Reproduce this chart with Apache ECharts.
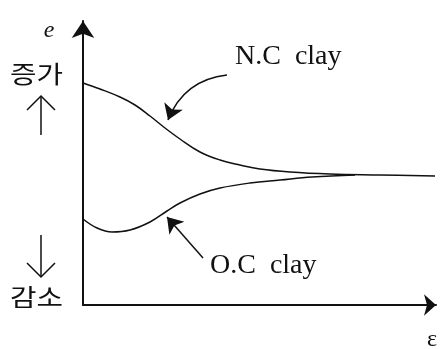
<!DOCTYPE html>
<html>
<head>
<meta charset="utf-8">
<script src="https://cdn.jsdelivr.net/npm/echarts@6/dist/echarts.min.js"></script>
<style>html,body{margin:0;padding:0;background:#fff;}#c{width:443px;height:349px;}</style>
</head>
<body>
<div id="c"></div>
<script>
// Normally consolidated (N.C) clay curve: [strain, void ratio] (arbitrary units)
var ncClay = [[0,222],[17,216],[37,208],[52,200],[67,189],[82,177],[97,166],[117,153],[137,145],[157,140],[177,136],[207,133],[247,131],[297,130],[352,129]];
// Overconsolidated (O.C) clay curve
var ocClay = [[0,86],[14,77],[29,73],[47,75],[67,83],[84,94],[97,102],[117,111],[137,117],[167,122],[197,125],[229,128],[272,130]];
// Annotation pointer arrows: [from, to]
var ncPointer = [[144,230],[85,185]];
var ocPointer = [[120,47],[84,88]];
var seriesNames = ['N.C  clay', 'O.C  clay'];
var yAxisName = 'e';
var xAxisName = 'ε';
var upLabel = '증가';
var downLabel = '감소';

var chart = echarts.init(document.getElementById('c'), null, {renderer:'canvas'});
var ink = '#111';
chart.setOption({
  backgroundColor:'#fff',
  animation:false,
  grid:{left:83, right:7, top:21, bottom:44},
  xAxis:{type:'value', min:0, max:353,
    axisLine:{show:true, lineStyle:{color:ink, width:2}, symbol:['none','arrow'], symbolSize:[16,12]},
    axisTick:{show:false}, axisLabel:{show:false}, splitLine:{show:false}},
  yAxis:{type:'value', min:0, max:284,
    axisLine:{show:true, lineStyle:{color:ink, width:2}, symbol:['none','arrow'], symbolSize:[17,17]},
    axisTick:{show:false}, axisLabel:{show:false}, splitLine:{show:false}},
  series:[
    {name:seriesNames[0], type:'line', data:ncClay, smooth:0.4, showSymbol:false,
     lineStyle:{color:ink, width:1.5}},
    {name:seriesNames[1], type:'line', data:ocClay, smooth:0.4, showSymbol:false,
     lineStyle:{color:ink, width:1.5}},
    {type:'lines', coordinateSystem:'cartesian2d', symbol:['none','arrow'], symbolSize:[0,15],
     lineStyle:{color:ink, width:1.5, opacity:1, curveness:-0.3},
     data:[{coords:ncPointer}]},
    {type:'lines', coordinateSystem:'cartesian2d', symbol:['none','arrow'], symbolSize:[0,15],
     lineStyle:{color:ink, width:1.5, opacity:1, curveness:0},
     data:[{coords:ocPointer}]}
  ],
  graphic:[
    {type:'text', x:235, y:43, style:{text:seriesNames[0], font:'28px "Liberation Serif"', fill:ink}},
    {type:'text', x:210, y:252, style:{text:seriesNames[1], font:'28px "Liberation Serif"', fill:ink}},
    {type:'text', x:49, y:31, style:{text:yAxisName, font:'italic 24px "Liberation Serif"', fill:ink, align:'center', verticalAlign:'middle'}},
    {type:'text', x:432, y:340, style:{text:xAxisName, font:'24px "Liberation Serif"', fill:ink, align:'center', verticalAlign:'middle'}},
    {type:'text', x:10, y:62, scaleX:1.2, style:{text:upLabel, font:'24px "Noto Sans CJK KR"', fill:ink}},
    {type:'text', x:10, y:285, scaleX:1.2, style:{text:downLabel, font:'24px "Noto Sans CJK KR"', fill:ink}},
    {type:'polyline', shape:{points:[[41,96],[41,135]]}, style:{stroke:ink, lineWidth:1.5, fill:null}},
    {type:'polyline', shape:{points:[[27,110],[41,96],[55,110]]}, style:{stroke:ink, lineWidth:1.5, fill:null}},
    {type:'polyline', shape:{points:[[41,235],[41,277]]}, style:{stroke:ink, lineWidth:1.5, fill:null}},
    {type:'polyline', shape:{points:[[27,263],[41,277],[55,263]]}, style:{stroke:ink, lineWidth:1.5, fill:null}}
  ]
});
</script>
</body>
</html>
